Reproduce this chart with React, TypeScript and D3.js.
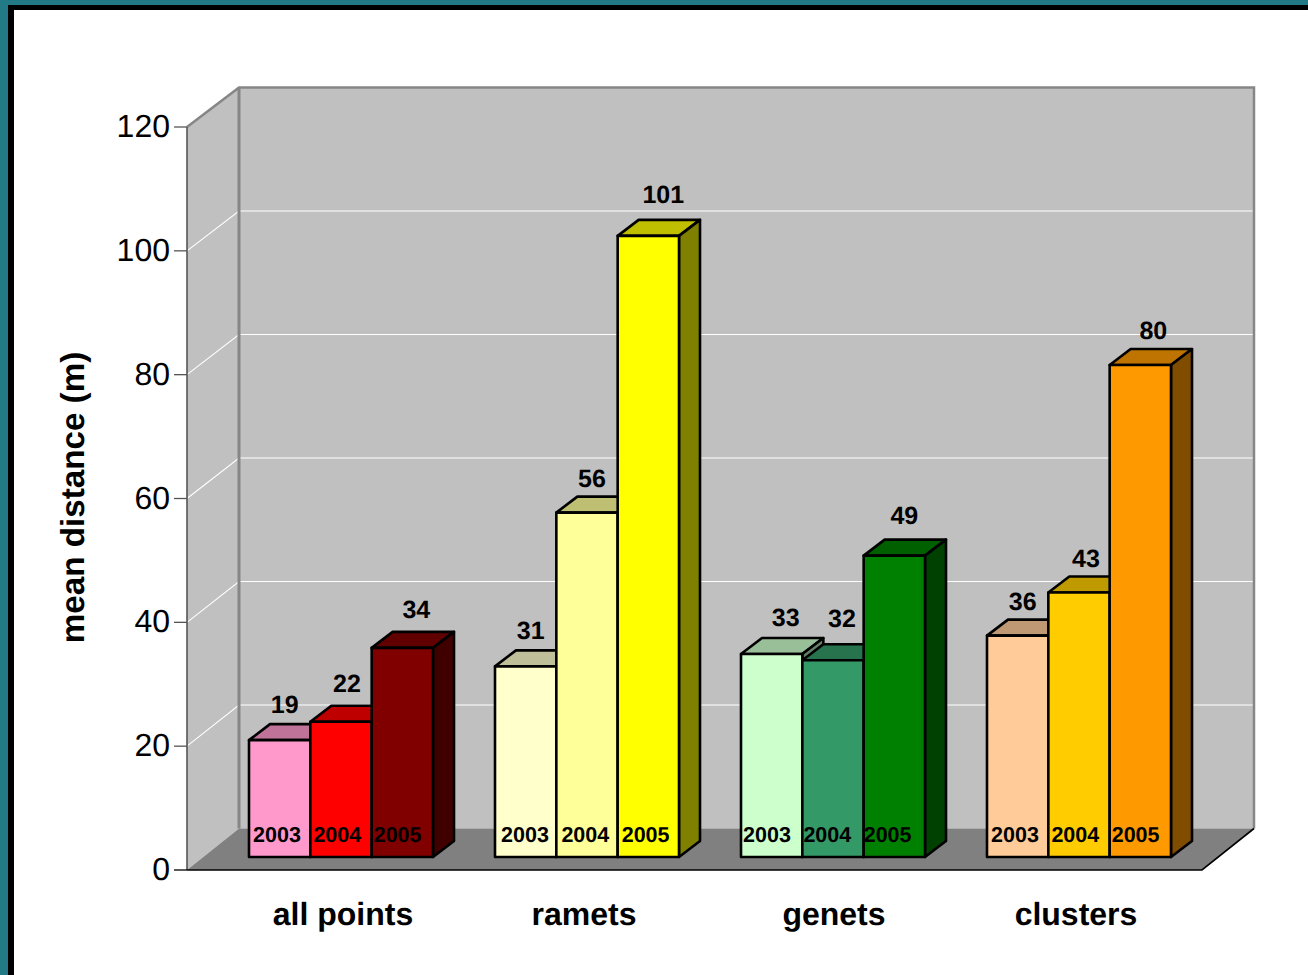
import React from "react";
import * as d3 from "d3";

// Mean distance by sampling level and year
const categories = ["all points", "ramets", "genets", "clusters"];
const years = ["2003", "2004", "2005"];
const allPoints = [19, 22, 34];
const ramets = [31, 56, 101];
const genets = [33, 32, 49];
const clusters = [36, 43, 80];
const seriesValues = [allPoints, ramets, genets, clusters];
const yTicks = [0, 20, 40, 60, 80, 100, 120];

const pinkReds = ["#FF99CC", "#FF0000", "#800000"];
const yellows = ["#FFFFCC", "#FFFF99", "#FFFF00"];
const greens = ["#CCFFCC", "#339966", "#008000"];
const oranges = ["#FFCC99", "#FFCC00", "#FF9900"];
const palettes = [pinkReds, yellows, greens, oranges];

// Hand placement of the value labels relative to each bar's centre and top
const labelShiftX = [[5, 6, 14], [5, 5, 15], [14, 9, 10], [5, 7, 13]];
const labelShiftY = [[26.8, 29.9, 30], [27.2, 25.2, 33], [28.3, 33.3, 32], [25.4, 25.5, 26.2]];
const yearShift = [0, 2, -2, 0];
const categoryShift = [2, -3, 1, -3];

const W = 1308;
const H = 975;
const axisX = 187;
const floorRight = 1202;
const y0 = 870;
const y120 = 127;
const wallDX = 52;
const barBase = 857;
const barDX = 21;
const barDY = 16;
const SANS = "'Liberation Sans', Arial, sans-serif";

// Front edge of the plot box, back wall, and the bars set between them
const y = d3.scaleLinear().domain([0, 120]).range([y0, y120]);
const yBack = d3.scaleLinear().domain([0, 120]).range([828.5, 87.5]);
const yBar = d3.scaleLinear().domain([0, 120]).range([barBase, barBase - 738]);
const outer = d3.scaleBand<string>().domain(categories).range([249, 1171]).paddingInner(62 / 246);
const inner = d3.scaleBand<string>().domain(years).range([0, outer.bandwidth()]);

const poly = (pts: [number, number][]) => pts.map((p) => p.join(",")).join(" ");
const shade = (color: string, k: number) => {
  const c = d3.rgb(color);
  return d3.rgb(c.r * k, c.g * k, c.b * k).formatHex();
};

function Bar({ x, w, value, color }: { x: number; w: number; value: number; color: string }) {
  const top = yBar(value);
  const common = { stroke: "#000", strokeWidth: 2.6, strokeLinejoin: "round" as const };
  return (
    <g>
      <polygon
        {...common}
        fill={shade(color, 0.75)}
        points={poly([[x, top], [x + barDX, top - barDY], [x + w + barDX, top - barDY], [x + w, top]])}
      />
      <polygon
        {...common}
        fill={shade(color, 0.5)}
        points={poly([[x + w, top], [x + w + barDX, top - barDY], [x + w + barDX, barBase - barDY], [x + w, barBase]])}
      />
      <rect {...common} x={x} y={top} width={w} height={barBase - top} fill={color} />
    </g>
  );
}

export default function App() {
  const backLeft = axisX + wallDX;
  const backRight = floorRight + wallDX;
  const backTop = yBack(120);
  const backBottom = yBack(0);
  return (
    <svg
      width={W}
      height={H}
      viewBox={`0 0 ${W} ${H}`}
      textRendering="geometricPrecision"
      style={{ position: "fixed", left: 0, top: 0, fontFamily: SANS }}
    >
      <rect width={W} height={H} fill="#217A85" />
      <rect x={8} y={5} width={W - 8} height={H - 5} fill="#000" />
      <rect x={14} y={10} width={W - 14} height={H - 10} fill="#fff" />

      {/* Walls and floor */}
      <rect x={backLeft} y={backTop} width={backRight - backLeft} height={backBottom - backTop} fill="#C0C0C0" />
      <polygon
        fill="#C0C0C0"
        points={poly([[axisX, y120], [backLeft, backTop], [backLeft, backBottom], [axisX, y0]])}
      />
      <polygon
        fill="#808080"
        points={poly([[axisX, y0], [backLeft, backBottom], [backRight, backBottom], [floorRight, y0]])}
      />

      {/* Gridlines run along the side wall and across the back */}
      {yTicks.slice(1, -1).map((t) => (
        <polyline
          key={t}
          fill="none"
          stroke="#fff"
          strokeWidth={1.1}
          points={poly([[axisX, y(t)], [backLeft, yBack(t)], [backRight, yBack(t)]])}
        />
      ))}

      <polyline
        fill="none"
        stroke="#868686"
        strokeWidth={2.5}
        points={poly([[axisX, y120], [backLeft, backTop], [backRight, backTop], [backRight, backBottom]])}
      />
      <line x1={backLeft} x2={backLeft} y1={backTop} y2={backBottom} stroke="#868686" strokeWidth={3} />

      {/* Axes */}
      <line x1={axisX} x2={axisX} y1={y120} y2={y0} stroke="#555" strokeWidth={1.6} />
      <polyline
        fill="none"
        stroke="#000"
        strokeWidth={1.6}
        points={poly([[axisX, y0], [floorRight, y0], [backRight, backBottom]])}
      />
      {yTicks.map((t) => (
        <g key={t}>
          <line x1={axisX - 13} x2={axisX} y1={y(t)} y2={y(t)} stroke={t === 0 ? "#000" : "#555"} strokeWidth={1.3} />
          <text x={170} y={y(t) + 10} textAnchor="end" fontSize={32} fill="#000">
            {t}
          </text>
        </g>
      ))}
      <text
        transform="translate(84,497.5) rotate(-90)"
        textAnchor="middle"
        fontSize={33.2}
        fontWeight="bold"
        fill="#000"
      >
        mean distance (m)
      </text>

      {/* Bars */}
      {categories.map((cat, g) => (
        <g key={cat}>
          {years.map((yr, i) => (
            <Bar
              key={yr}
              x={outer(cat)! + inner(yr)!}
              w={inner.bandwidth()}
              value={seriesValues[g][i]}
              color={palettes[g][i]}
            />
          ))}
        </g>
      ))}

      {/* Year labels on the bar fronts, value labels above them */}
      {categories.map((cat, g) =>
        years.map((yr, i) => {
          const x = outer(cat)! + inner(yr)!;
          const w = inner.bandwidth();
          const v = seriesValues[g][i];
          return (
            <g key={cat + yr} fontWeight="bold" fill="#000" textAnchor="middle">
              <text x={outer(cat)! + 28 + i * 60.3 + yearShift[g]} y={842} fontSize={21.5}>
                {yr}
              </text>
              <text x={x + w / 2 + labelShiftX[g][i]} y={yBar(v) - labelShiftY[g][i]} fontSize={25}>
                {v}
              </text>
            </g>
          );
        })
      )}

      {/* Category labels */}
      {categories.map((cat, g) => (
        <text
          key={cat}
          x={outer(cat)! + outer.bandwidth() / 2 + categoryShift[g]}
          y={925}
          textAnchor="middle"
          fontSize={32}
          fontWeight="bold"
          fill="#000"
        >
          {cat}
        </text>
      ))}
    </svg>
  );
}
